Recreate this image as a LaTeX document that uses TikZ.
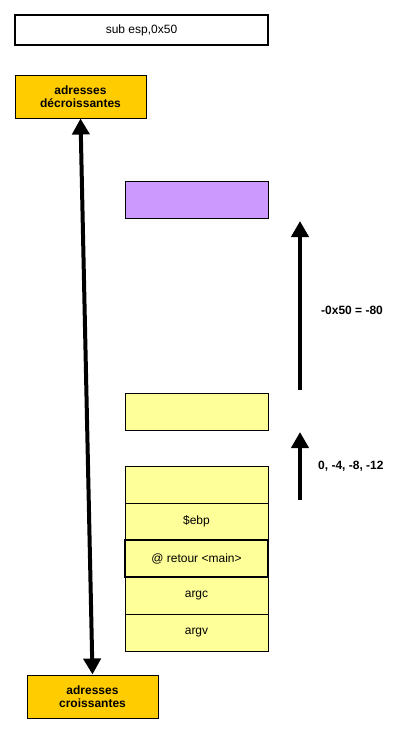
\documentclass[tikz,border=0pt]{standalone}
\usepackage{fontspec}
\setmainfont{Liberation Sans}
\usetikzlibrary{arrows.meta}
\definecolor{gold}{HTML}{FFCC00}
\definecolor{lilac}{HTML}{CC99FF}
\definecolor{paleyellow}{HTML}{FFFF99}
\begin{document}
\begin{tikzpicture}[x=1pt,y=-1pt,
  base/.style={draw=black, line width=1pt, inner sep=0pt, align=center,
    font=\fontsize{12}{13.5}\selectfont},
  titlebox/.style={base, line width=2.6pt, fill=white, minimum width=253pt, minimum height=30pt},
  labelbox/.style={base, fill=gold, minimum width=131pt, minimum height=43pt,
    font=\fontsize{12}{13.5}\selectfont\bfseries},
  cell/.style={base, fill=paleyellow, minimum width=143pt, minimum height=37pt},
  purplecell/.style={base, fill=lilac, minimum width=143pt, minimum height=37pt},
  thickcell/.style={cell, line width=2.6pt},
  bigarrow/.style={line width=4pt, -{Triangle[width=17pt,length=16pt]}},
  dblarrow/.style={line width=4pt, {Triangle[width=17pt,length=16pt]}-{Triangle[width=17pt,length=16pt]}},
  note/.style={anchor=west, inner sep=0pt, font=\fontsize{12}{13.5}\selectfont\bfseries}
]
\useasboundingbox (0,0) rectangle (402,734);
\node[titlebox] (sub) at (141.5,30) {sub esp,0x50};
\node[labelbox] (dec) at (80.5,96.5) {adresses\\décroissantes};
\node[labelbox] (cro) at (92.5,696.5) {adresses\\croissantes};
\node[purplecell] (purple) at (196.5,199.5) {};
\node[cell] (single) at (196.5,411.5) {};
\node[cell] (s0) at (196.5,484.5) {};
\node[cell] (s1) at (196.5,521.5) {\$ebp};
\node[cell] (s3) at (196.5,595.5) {argc};
\node[cell] (s4) at (196.5,632.5) {argv};
\node[thickcell] (s2) at (196.5,558.5) {@ retour <main>};
\draw[dblarrow] (dec.south) -- (cro.north);
\coordinate (la0) at (300,390);
\coordinate (la1) at (300,221);
\coordinate (sa0) at (300,500);
\coordinate (sa1) at (300,432);
\draw[bigarrow] (la0) -- (la1);
\draw[bigarrow] (sa0) -- (sa1);
\node[note] (lab1) at (321,310) {-0x50 = -80};
\node[note] (lab2) at (318,466) {0, -4, -8, -12};
\end{tikzpicture}
\end{document}
